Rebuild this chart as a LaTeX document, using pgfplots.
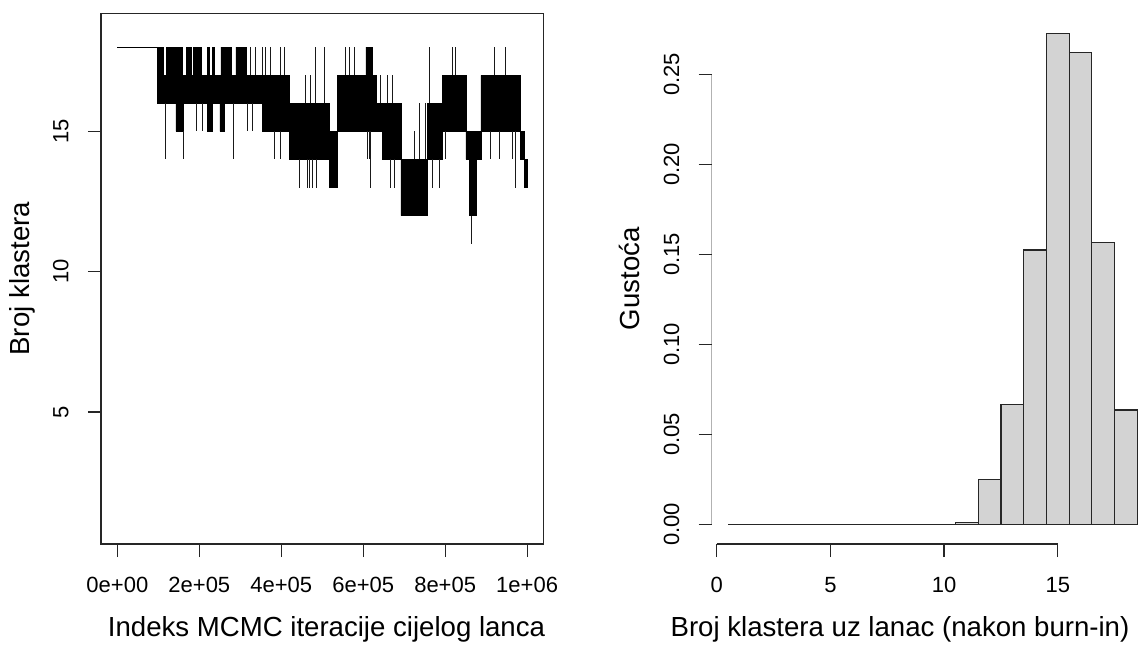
\documentclass[border=0pt]{standalone}
\usepackage{fontspec}
\setmainfont{Liberation Sans}
\usepackage{pgfplots}
\usepackage{pgfplotstable}
\pgfplotsset{compat=1.18}
\newcommand\tickfont{\fontsize{11pt}{13pt}\selectfont}
\newcommand\labfont{\fontsize{13.8pt}{16pt}\selectfont}
\definecolor{histfill}{HTML}{D3D3D3}

% region swept by the rapidly oscillating chain: upper edge left to right, lower edge back
\pgfplotstableread{
x y
98000 18
112000 18
112000 17
118700 17
118700 18
131000 18
131000 17
135000 17
135000 18
159300 18
159300 17
167500 17
167500 18
179700 18
179700 17
185400 17
185400 18
191900 18
191900 17
195900 17
195900 18
204000 18
204000 17
220300 17
220300 18
224400 18
224400 17
232500 17
232500 18
236600 18
236600 17
252800 17
252800 18
277200 18
277200 17
289400 17
289400 18
313800 18
313800 17
419500 17
419500 16
517100 16
517100 15
537400 15
537400 17
606500 17
606500 18
622800 18
622800 17
630900 17
630900 16
691900 16
691900 14
756900 14
756900 16
793500 16
793500 17
850400 17
850400 15
887000 15
887000 17
984500 17
984500 15
992700 15
992700 14
1000000 14
1000000 13
992700 13
992700 14
984500 14
984500 15
887000 15
887000 14
876400 14
876400 12
858500 12
858500 14
850400 14
850400 15
793500 15
793500 14
756900 14
756900 12
691900 12
691900 14
647100 14
647100 15
537400 15
537400 13
517100 13
517100 14
419500 14
419500 15
354500 15
354500 16
260000 16
260000 15
250000 15
250000 16
232500 16
232500 15
220300 15
220300 16
161000 16
161000 15
143000 15
143000 16
98000 16
}\trBand
% single excursions of the chain
\pgfplotstableread{
x y
117000 16
117000 14
117000 nan
162000 15
162000 14
162000 nan
191900 16
191900 15
191900 nan
208100 16
208100 15
208100 nan
283700 16
283700 14
283700 nan
317900 16
317900 15
317900 nan
326000 17
326000 18
326000 nan
330100 16
330100 15
330100 nan
338200 17
338200 18
338200 nan
354500 17
354500 18
354500 nan
362600 17
362600 18
362600 nan
374800 17
374800 18
374800 nan
382900 15
382900 14
382900 nan
397600 15
397600 14
397600 nan
399200 17
399200 18
399200 nan
407300 17
407300 18
407300 nan
445500 14
445500 13
445500 nan
460200 16
460200 17
460200 nan
464200 14
464200 13
464200 nan
469900 14
469900 13
469900 nan
472400 16
472400 17
472400 nan
476400 14
476400 13
476400 nan
484500 16
484500 18
484500 nan
487000 14
487000 13
487000 nan
504900 16
504900 18
504900 nan
557700 17
557700 18
557700 nan
565800 17
565800 18
565800 nan
578000 17
578000 18
578000 nan
610600 15
610600 14
610600 nan
614600 15
614600 14
614600 nan
618700 15
618700 13
618700 nan
643100 16
643100 17
643100 nan
659300 16
659300 17
659300 nan
667500 14
667500 13
667500 nan
671500 16
671500 17
671500 nan
675600 14
675600 13
675600 nan
724400 14
724400 15
724400 nan
736600 14
736600 16
736600 nan
752800 14
752800 16
752800 nan
762600 16
762600 18
762600 nan
769100 14
769100 13
769100 nan
785400 14
785400 13
785400 nan
801600 15
801600 14
801600 nan
817900 17
817900 18
817900 nan
826000 17
826000 18
826000 nan
865000 12
865000 11
865000 nan
911400 15
911400 14
911400 nan
919500 17
919500 18
919500 nan
931700 15
931700 14
931700 nan
946300 17
946300 18
946300 nan
964200 15
964200 14
964200 nan
972300 15
972300 13
972300 nan
}\trSpikes
% histogram: left bin edge, density
\pgfplotstableread{
x y
0.5 0
1.5 0
2.5 0
3.5 0
4.5 0
5.5 0
6.5 0
7.5 0
8.5 0
9.5 0
10.5 0.0009
11.5 0.025
12.5 0.0667
13.5 0.1524
14.5 0.2728
15.5 0.262
16.5 0.1564
17.5 0.0635
18.5 0
}\histData

\pgfplotsset{
  rstyle/.style={
    scale only axis,
    tick align=outside,
    tick pos=left,
    major tick length=6.5pt,
    tick style={black!85, line width=0.6pt},
    xticklabel style={font=\tickfont, anchor=north, inner xsep=0pt, inner ysep=9.85pt},
    yticklabel style={font=\tickfont, rotate=90, anchor=south, inner xsep=0pt, inner ysep=9.5pt},
    xlabel style={font=\labfont, anchor=base},
    ylabel style={font=\labfont, at={(axis description cs:-0.1627,0.5)}, anchor=base},
    scaled ticks=false,
  }
}

\begin{document}
\begin{tikzpicture}
\useasboundingbox (0,0) rectangle (570.5pt,322pt);
\begin{axis}[rstyle,
  at={(50.5pt,50pt)}, anchor=south west,
  width=221.25pt, height=265.25pt,
  xmin=-40000, xmax=1040000, ymin=0.3, ymax=19.2,
  axis line style={black!85, line width=0.6pt},
  xtick={0,200000,400000,600000,800000,1000000},
  xticklabels={0e+00,2e+05,4e+05,6e+05,8e+05,1e+06},
  ytick={5,10,15},
  yticklabels={5,10,15},
  xlabel={Indeks MCMC iteracije cijelog lanca},
  xlabel style={at={(axis description cs:0.5096,-0.1753)}},
  ylabel={Broj klastera},
]
\addplot[fill=black, draw=black, line width=0.3pt, forget plot] table {\trBand} -- cycle;
\addplot[black, line width=0.5pt, forget plot] coordinates {(0,18) (98000,18) (98000,16)};
\addplot[black!90, line width=0.5pt, unbounded coords=jump, forget plot] table {\trSpikes};
\end{axis}

\begin{axis}[rstyle,
  at={(355.85pt,50pt)}, anchor=south west,
  width=221pt, height=265.25pt,
  xmin=-0.22, xmax=19.22, ymin=-0.0109, ymax=0.2837,
  axis x line*=bottom, axis y line*=left,
  axis line style={draw=none},
  xtick={0,5,10,15},
  xticklabels={0,5,10,15},
  ytick={0,0.05,0.10,0.15,0.20,0.25},
  yticklabels={0.00,0.05,0.10,0.15,0.20,0.25},
  xlabel={Broj klastera uz lanac (nakon burn-in)},
  xlabel style={at={(axis description cs:0.426,-0.1753)}},
  ylabel={Gustoća},
]
\addplot[ybar interval, fill=histfill, draw=black!85, line width=0.6pt] table {\histData};
\draw[black!85, line width=0.6pt] (axis cs:0,-0.0109) -- (axis cs:15,-0.0109);
\draw[black!85, line width=0.6pt] (axis cs:-0.22,0) -- (axis cs:-0.22,0.25);
\end{axis}
\end{tikzpicture}
\end{document}
